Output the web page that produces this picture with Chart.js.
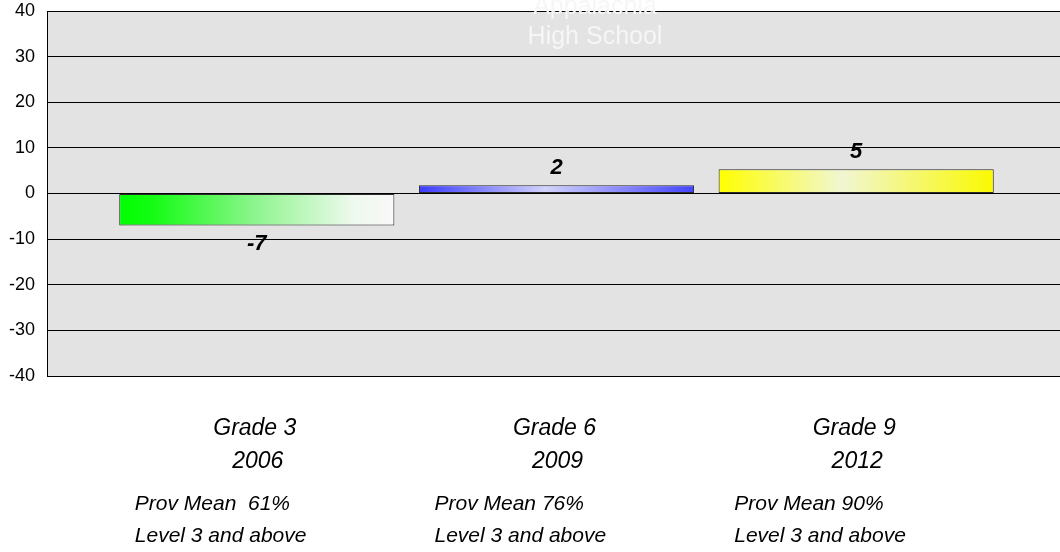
<!DOCTYPE html>
<html>
<head>
<meta charset="utf-8">
<script src="https://cdn.jsdelivr.net/npm/chart.js@4/dist/chart.umd.min.js"></script>
<style>
  html, body { margin: 0; padding: 0; background: #ffffff; }
  #wrap { width: 1060px; height: 552px; position: relative; }
</style>
</head>
<body>
<div id="wrap"><canvas id="c"></canvas></div>
<script>
// ---- data ----
const grades = ['Grade 3', 'Grade 6', 'Grade 9'];
const years = ['2006', '2009', '2012'];
const provMeans = ['Prov Mean  61%', 'Prov Mean 76%', 'Prov Mean 90%'];
const levelText = ['Level 3 and above', 'Level 3 and above', 'Level 3 and above'];
const values = [-7, 1.8, 5.3];
const valueLabels = ['-7', '2', '5'];
const yTicks = [40, 30, 20, 10, 0, -10, -20, -30, -40];
const titleLines = ['Appalachia', 'High School'];

const FONT = '"Liberation Sans", Arial, sans-serif';

const gradientStops = [
  [[0, '#00ff00'], [0.12, '#14fc14'], [0.5, '#8ff58f'], [0.85, '#eef9ee'], [1, '#f8f8f8']],
  [[0, '#3c3cff'], [0.46, '#d2d2fb'], [1, '#4444ff']],
  [[0, '#ffff00'], [0.45, '#f1f6d2'], [1, '#fafa00']]
];

const plotBg = {
  id: 'plotBg',
  beforeDraw(chart) {
    const { ctx, chartArea: a } = chart;
    ctx.save();
    ctx.fillStyle = '#e3e3e3';
    ctx.fillRect(a.left, a.top, a.right - a.left, a.bottom - a.top);
    ctx.restore();
  }
};

const barGradients = {
  id: 'barGradients',
  beforeDatasetsDraw(chart) {
    const ctx = chart.ctx;
    const meta = chart.getDatasetMeta(0);
    meta.data.forEach((el, i) => {
      const p = el.getProps(['x', 'width'], true);
      const left = p.x - p.width / 2;
      const g = ctx.createLinearGradient(left, 0, left + p.width, 0);
      gradientStops[i].forEach(s => g.addColorStop(s[0], s[1]));
      el.options = Object.assign({}, el.options, { backgroundColor: g });
    });
  }
};

const labelsPlugin = {
  id: 'labelsPlugin',
  afterDatasetsDraw(chart) {
    const { ctx } = chart;
    const meta = chart.getDatasetMeta(0);
    ctx.save();
    ctx.fillStyle = '#000000';
    ctx.font = 'italic bold 22px ' + FONT;
    ctx.textAlign = 'center';
    ctx.textBaseline = 'middle';
    meta.data.forEach((el, i) => {
      const p = el.getProps(['x', 'y'], true);
      const y = values[i] < 0 ? p.y + 18 : p.y - 17;
      ctx.fillText(valueLabels[i], p.x, y);
    });
    ctx.restore();
  },
  afterDraw(chart) {
    const { ctx, chartArea: a } = chart;
    const xs = chart.scales.x;
    ctx.save();
    ctx.fillStyle = '#000000';
    ctx.textBaseline = 'middle';
    grades.forEach((g, i) => {
      const cx = xs.getPixelForValue(i);
      ctx.font = 'italic 23px ' + FONT;
      ctx.textAlign = 'center';
      ctx.fillText(g, cx - 2, a.bottom + 53);
      ctx.fillText(years[i], cx + 1, a.bottom + 86);
      ctx.font = 'italic 21px ' + FONT;
      ctx.textAlign = 'left';
      ctx.fillText(provMeans[i], cx - 122, a.bottom + 128);
      ctx.fillText(levelText[i], cx - 122, a.bottom + 160);
    });
    // title (white, overlapping the top of the plot)
    ctx.fillStyle = '#f6f6f6';
    ctx.font = '25px ' + FONT;
    ctx.textAlign = 'center';
    ctx.textBaseline = 'alphabetic';
    ctx.fillText(titleLines[0], 595, a.top + 3);
    ctx.fillText(titleLines[1], 595, a.top + 33);
    ctx.restore();
  }
};

new Chart(document.getElementById('c'), {
  type: 'bar',
  data: {
    datasets: [{
      data: values.map((v, i) => ({ x: i, y: v })),
      backgroundColor: ['#00ff00', '#4444ff', '#ffff00'],
      borderColor: '#2a2a2a',
      borderWidth: 1,
      borderSkipped: false,
      barPercentage: 0.918,
      categoryPercentage: 1
    }]
  },
  options: {
    responsive: true,
    maintainAspectRatio: false,
    animation: false,
    devicePixelRatio: 1,
    layout: { padding: { top: 11, bottom: 176, left: 0, right: 0 } },
    plugins: { legend: { display: false }, tooltip: { enabled: false }, title: { display: false } },
    scales: {
      x: {
        type: 'linear',
        min: -0.7,
        max: 2.68,
        offset: false,
        display: false,
        afterBuildTicks(scale) { scale.ticks = grades.map((g, i) => ({ value: i })); }
      },
      y: {
        min: -40,
        max: 40,
        afterBuildTicks(scale) { scale.ticks = yTicks.map(v => ({ value: v })); },
        afterFit(scale) { scale.width = 47; scale.paddingTop = 0; scale.paddingBottom = 0; },
        ticks: {
          color: '#000000',
          font: { family: FONT, size: 18 },
          padding: 12,
          callback: v => String(v)
        },
        grid: { color: '#000000', lineWidth: 1, drawTicks: false },
        border: { display: true, color: '#000000', width: 1 }
      }
    }
  },
  plugins: [plotBg, barGradients, labelsPlugin]
});
</script>
</body>
</html>
